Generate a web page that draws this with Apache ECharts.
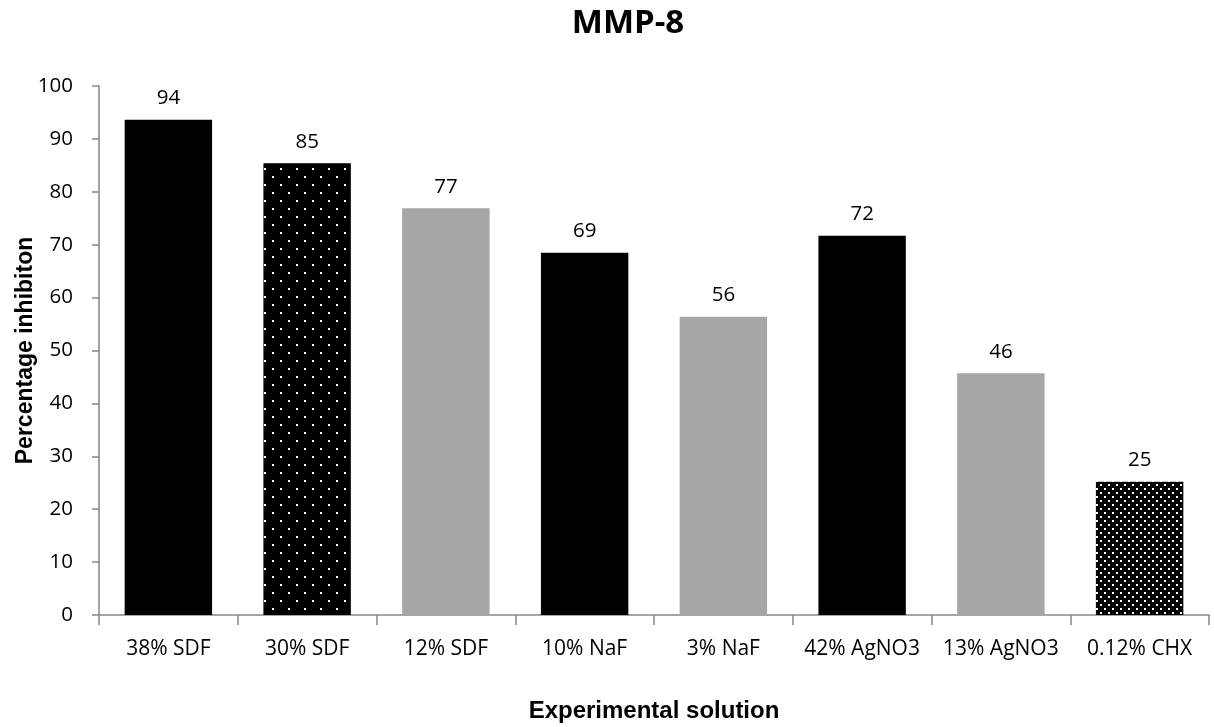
<!DOCTYPE html>
<html>
<head>
<meta charset="utf-8">
<script src="https://cdn.jsdelivr.net/npm/echarts@6/dist/echarts.min.js"></script>
<style>
html,body{margin:0;padding:0;background:#fff;}
#chart{width:1214px;height:727px;}
</style>
</head>
<body>
<div id="chart"></div>
<script>
// ---- data ----
const categories = ['38% SDF', '30% SDF', '12% SDF', '10% NaF', '3% NaF', '42% AgNO3', '13% AgNO3', '0.12% CHX'];
const inhibition = [93.6, 85.4, 76.9, 68.5, 56.4, 71.7, 45.7, 25.2];
const yTicks = [0, 10, 20, 30, 40, 50, 60, 70, 80, 90, 100];

// ---- styles ----
function dotPattern(size, dots, dot) {
  const c = document.createElement('canvas');
  c.width = size; c.height = size;
  const g = c.getContext('2d');
  g.fillStyle = '#000'; g.fillRect(0, 0, size, size);
  g.fillStyle = '#fff';
  dots.forEach(function (d) { g.fillRect(d[0], d[1], dot, dot); });
  return { image: c, repeat: 'repeat' };
}
const sparseDots = dotPattern(16, [[0, 0], [8, 8]], 2);
const denseDots = dotPattern(8, [[0, 0], [4, 4]], 2);
const fills = ['#000000', sparseDots, '#a6a6a6', '#000000', '#a6a6a6', '#000000', '#a6a6a6', denseDots];

const chart = echarts.init(document.getElementById('chart'), null, { renderer: 'canvas' });
chart.setOption({
  animation: false,
  backgroundColor: '#ffffff',
  title: {
    text: 'MMP-8',
    left: 623, top: 2, textAlign: 'center',
    textStyle: { fontFamily: 'Open Sans', fontWeight: 'bold', fontSize: 33, color: '#000' }
  },
  grid: { left: 99, right: 5, top: 86, bottom: 112, containLabel: false, outerBoundsMode: 'none' },
  xAxis: {
    type: 'category',
    data: categories,
    name: 'Experimental solution',
    nameLocation: 'middle',
    nameGap: 84,
    nameMoveOverlap: false,
    nameTextStyle: { fontFamily: 'Liberation Sans', fontWeight: 'bold', fontSize: 24, color: '#000' },
    axisLine: { show: true, lineStyle: { color: '#868686', width: 1.5 } },
    axisTick: { show: true, alignWithLabel: false, length: 10, lineStyle: { color: '#868686', width: 1.5 } },
    axisLabel: { fontFamily: 'Open Sans', fontSize: 21, color: '#000', margin: 24, interval: 0 }
  },
  yAxis: {
    type: 'value',
    min: yTicks[0], max: yTicks[yTicks.length - 1], interval: yTicks[1] - yTicks[0],
    name: 'Percentage inhibiton',
    nameLocation: 'middle',
    nameGap: 62,
    nameMoveOverlap: false,
    nameRotate: 90,
    nameTextStyle: { fontFamily: 'Liberation Sans', fontWeight: 'bold', fontSize: 23, color: '#000' },
    axisLine: { show: true, lineStyle: { color: '#868686', width: 1.5 } },
    axisTick: { show: true, length: 7, lineStyle: { color: '#868686', width: 1.5 } },
    axisLabel: { fontFamily: 'Open Sans', fontSize: 20.5, color: '#000', margin: 26 },
    splitLine: { show: false }
  },
  series: [{
    type: 'bar',
    barCategoryGap: '37%',
    data: inhibition.map(function (v, i) {
      return { value: v, itemStyle: { color: fills[i] } };
    }),
    label: {
      show: true, position: 'top', distance: 11,
      fontFamily: 'Open Sans', fontSize: 20.5, color: '#000',
      formatter: function (p) { return Math.round(p.value); }
    }
  }]
});
</script>
</body>
</html>
